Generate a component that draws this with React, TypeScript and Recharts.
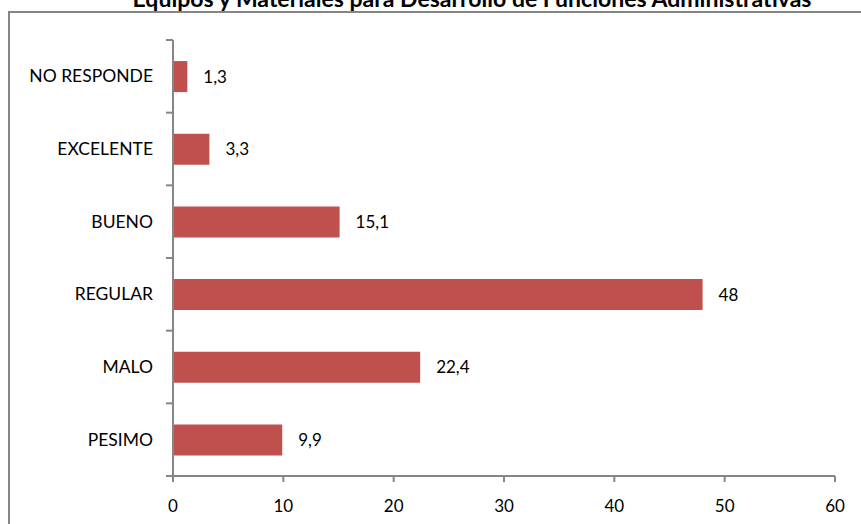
import { BarChart, Bar, XAxis, YAxis, LabelList } from "recharts";

const categories = ["NO RESPONDE", "EXCELENTE", "BUENO", "REGULAR", "MALO", "PESIMO"];
const values = [1.3, 3.3, 15.1, 48, 22.4, 9.9];
const xTicks = [0, 10, 20, 30, 40, 50, 60];

const title = "Equipos y Materiales para Desarrollo de Funciones Administrativas";

const W = 861;
const H = 524;
const TOP = 40;
const BOTTOM = 48;
const LEFT = 173;
const RIGHT = 26;
const band = (H - TOP - BOTTOM) / categories.length;
const axisColor = "#868686";
const font = "Lato, 'Open Sans', sans-serif";

const data = categories.map((c, i) => ({ name: c, value: values[i] }));

function CatTick(props: any) {
  const { y, payload, index } = props;
  return (
    <g>
      <line x1={LEFT - 7} x2={LEFT} y1={y - band / 2} y2={y - band / 2} stroke={axisColor} strokeWidth={2} />
      {index === categories.length - 1 && (
        <line x1={LEFT - 7} x2={LEFT} y1={y + band / 2} y2={y + band / 2} stroke={axisColor} strokeWidth={2} />
      )}
      <text x={LEFT - 20} y={y} dy={6} textAnchor="end" fontSize={17.5} fontFamily={font} fill="#000">
        {payload.value}
      </text>
    </g>
  );
}

export default function App() {
  return (
    <div style={{ position: "fixed", left: 0, top: 0, width: W, height: H, background: "#fff", overflow: "hidden" }}>
      <div
        style={{
          position: "absolute",
          left: 8,
          top: 11,
          width: 900,
          height: 600,
          border: `2px solid ${axisColor}`,
          boxSizing: "border-box",
        }}
      />
      <svg width={W} height={H} style={{ position: "absolute", left: 0, top: 0 }}>
        <text
          x={472}
          y={7}
          textAnchor="middle"
          fontFamily={font}
          fontWeight={700}
          fontSize={22}
          textLength={679}
          lengthAdjust="spacingAndGlyphs"
          fill="#000"
        >
          {title}
        </text>
      </svg>
      <div style={{ position: "absolute", left: 0, top: 0 }}>
        <BarChart
          width={W}
          height={H}
          data={data}
          layout="vertical"
          margin={{ top: TOP, right: RIGHT, bottom: 0, left: 0 }}
          barCategoryGap="29%"
        >
          <XAxis
            type="number"
            domain={[0, 60]}
            ticks={xTicks}
            height={BOTTOM}
            axisLine={{ stroke: axisColor, strokeWidth: 2 }}
            tickLine={{ stroke: axisColor, strokeWidth: 2 }}
            tickSize={6}
            tick={{ fill: "#000", fontSize: 17, fontFamily: font }}
            tickMargin={18}
          />
          <YAxis
            type="category"
            dataKey="name"
            width={LEFT}
            axisLine={{ stroke: axisColor, strokeWidth: 2 }}
            tickLine={false}
            tick={<CatTick />}
            interval={0}
          />
          <Bar dataKey="value" fill="#C0504D" isAnimationActive={false}>
            <LabelList
              dataKey="value"
              position="right"
              offset={16}
              formatter={(v: any) => String(v).replace(".", ",")}
              style={{ fill: "#000", fontSize: 17, fontFamily: font }}
            />
          </Bar>
        </BarChart>
      </div>
    </div>
  );
}
